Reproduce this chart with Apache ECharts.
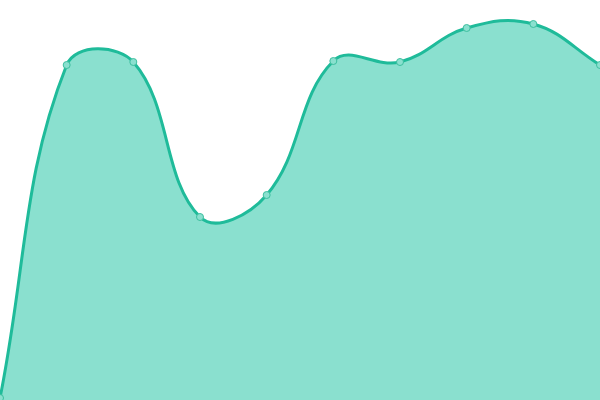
<!DOCTYPE html>
<html>
<head>
<meta charset="utf-8">
<script src="https://cdn.jsdelivr.net/npm/echarts@6/dist/echarts.min.js"></script>
<style>
  html, body { margin: 0; padding: 0; background: #fff; }
  #chart { width: 600px; height: 400px; }
</style>
</head>
<body>
<div id="chart"></div>
<script>
// values (axis 0..400)
const categories = ["1", "2", "3", "4", "5", "6", "7", "8", "9", "10"];
const values = [2, 335, 338, 183, 205, 339, 338, 372, 376, 335];

const LINE = "#1fbb9a";
const FILL = "#8ae0cf";
const TENSION = 0.4;

// cardinal spline (overshooting) through pixel points, like the reference
function splinePath(pts) {
  let d = "M" + pts[0][0] + "," + pts[0][1];
  const cps = pts.map((cur, i) => {
    const prev = pts[i - 1] || cur;
    const next = pts[i + 1] || cur;
    const d01 = Math.hypot(cur[0] - prev[0], cur[1] - prev[1]);
    const d12 = Math.hypot(next[0] - cur[0], next[1] - cur[1]);
    const s01 = d01 / (d01 + d12 || 1);
    const s12 = d12 / (d01 + d12 || 1);
    const fa = TENSION * s01, fb = TENSION * s12;
    return {
      prev: [cur[0] - fa * (next[0] - prev[0]), cur[1] - fa * (next[1] - prev[1])],
      next: [cur[0] + fb * (next[0] - prev[0]), cur[1] + fb * (next[1] - prev[1])]
    };
  });
  for (let i = 1; i < pts.length; i++) {
    const a = cps[i - 1].next, b = cps[i].prev;
    d += "C" + a[0] + "," + a[1] + " " + b[0] + "," + b[1] + " " + pts[i][0] + "," + pts[i][1];
  }
  return d;
}

const chart = echarts.init(document.getElementById("chart"));
chart.setOption({
  animation: false,
  grid: { left: 0, right: 0, top: 0, bottom: 0 },
  xAxis: { type: "category", data: categories, boundaryGap: false, show: false },
  yAxis: { type: "value", min: 0, max: 400, show: false },
  series: [
    {
      type: "custom",
      data: values,
      z: 1,
      renderItem(params, api) {
        if (params.dataIndex !== 0) return null;
        const pts = values.map((v, i) => api.coord([i, v]));
        const line = splinePath(pts);
        const base = api.coord([0, 0])[1];
        const last = pts[pts.length - 1];
        const area = line + "L" + last[0] + "," + base + "L" + pts[0][0] + "," + base + "Z";
        return {
          type: "group",
          children: [
            { type: "path", shape: { pathData: area }, style: { fill: FILL, stroke: null } },
            { type: "path", shape: { pathData: line }, style: { fill: null, stroke: LINE, lineWidth: 3 } }
          ]
        };
      }
    },
    {
      type: "line",
      data: values,
      z: 2,
      symbol: "circle",
      symbolSize: 7,
      lineStyle: { opacity: 0 },
      itemStyle: { color: FILL, borderColor: "#3dbf9f", borderWidth: 1 }
    }
  ]
});
</script>
</body>
</html>
